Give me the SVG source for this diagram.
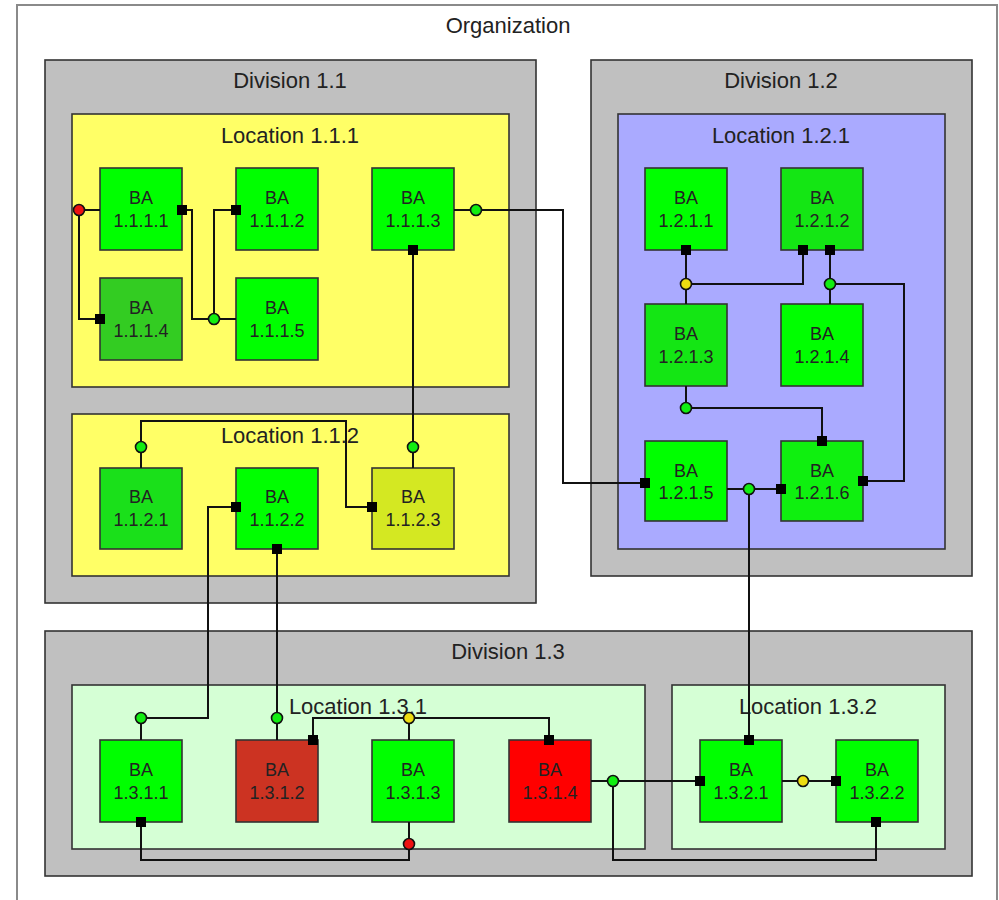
<svg xmlns="http://www.w3.org/2000/svg" width="999" height="900" viewBox="0 0 999 900">
<style>
.org{fill:#ffffff;stroke:#8a8a8a;stroke-width:2}
.div{fill:#c0c0c0;stroke:#333;stroke-width:1.6}
.locY{fill:#ffff66;stroke:#333;stroke-width:1.6}
.locB{fill:#aaaaff;stroke:#333;stroke-width:1.6}
.locG{fill:#d5ffd5;stroke:#333;stroke-width:1.6}
.ba{stroke:#333;stroke-width:1.6}
.t{font-family:"Liberation Sans",Arial,sans-serif;fill:#222;text-anchor:middle}
.title{font-size:22px}
.lbl{font-size:18px}
.w{fill:none;stroke:#111;stroke-width:2}
.sq{fill:#000}
.cg{fill:#11ee11;stroke:#111;stroke-width:1.6}
.cy{fill:#eedd11;stroke:#111;stroke-width:1.6}
.cr{fill:#ee1111;stroke:#111;stroke-width:1.6}
</style>
<rect x="0" y="0" width="999" height="900" fill="#ffffff"/>
<g id="org">
<rect class="org" x="17" y="5" width="980" height="905"/>
<text class="t title" x="508" y="33">Organization</text>
</g>
<g id="div11">
<rect class="div" x="45" y="60" width="491" height="543"/>
<text class="t title" x="290" y="88">Division 1.1</text>
</g>
<g id="loc111">
<rect class="locY" x="72" y="114" width="437" height="273"/>
<text class="t title" x="290" y="143">Location 1.1.1</text>
</g>
<g id="loc112">
<rect class="locY" x="72" y="414" width="437" height="162"/>
<text class="t title" x="290" y="443">Location 1.1.2</text>
</g>
<g id="div12">
<rect class="div" x="591" y="60" width="381" height="516"/>
<text class="t title" x="781" y="88">Division 1.2</text>
</g>
<g id="loc121">
<rect class="locB" x="618" y="114" width="327" height="435"/>
<text class="t title" x="781" y="143">Location 1.2.1</text>
</g>
<g id="div13">
<rect class="div" x="45" y="631" width="927" height="245"/>
<text class="t title" x="508" y="659">Division 1.3</text>
</g>
<g id="loc131">
<rect class="locG" x="72" y="685" width="573" height="164"/>
<text class="t title" x="358" y="714">Location 1.3.1</text>
</g>
<g id="loc132">
<rect class="locG" x="672" y="685" width="273" height="164"/>
<text class="t title" x="808" y="714">Location 1.3.2</text>
</g>

<g id="ba1111"><rect class="ba" x="100" y="168" width="82" height="82" fill="#00ff00"/><text class="t lbl" x="141" y="204">BA</text><text class="t lbl" x="141" y="227">1.1.1.1</text></g>
<g id="ba1112"><rect class="ba" x="236" y="168" width="82" height="82" fill="#00ff00"/><text class="t lbl" x="277" y="204">BA</text><text class="t lbl" x="277" y="227">1.1.1.2</text></g>
<g id="ba1113"><rect class="ba" x="372" y="168" width="82" height="82" fill="#00ff00"/><text class="t lbl" x="413" y="204">BA</text><text class="t lbl" x="413" y="227">1.1.1.3</text></g>
<g id="ba1114"><rect class="ba" x="100" y="278" width="82" height="82" fill="#33cc22"/><text class="t lbl" x="141" y="314">BA</text><text class="t lbl" x="141" y="337">1.1.1.4</text></g>
<g id="ba1115"><rect class="ba" x="236" y="278" width="82" height="82" fill="#00ff00"/><text class="t lbl" x="277" y="314">BA</text><text class="t lbl" x="277" y="337">1.1.1.5</text></g>

<g id="ba1121"><rect class="ba" x="100" y="468" width="82" height="81" fill="#1ae01a"/><text class="t lbl" x="141" y="503">BA</text><text class="t lbl" x="141" y="526">1.1.2.1</text></g>
<g id="ba1122"><rect class="ba" x="236" y="468" width="82" height="81" fill="#00ff00"/><text class="t lbl" x="277" y="503">BA</text><text class="t lbl" x="277" y="526">1.1.2.2</text></g>
<g id="ba1123"><rect class="ba" x="372" y="468" width="82" height="81" fill="#d4e822"/><text class="t lbl" x="413" y="503">BA</text><text class="t lbl" x="413" y="526">1.1.2.3</text></g>

<g id="ba1211"><rect class="ba" x="645" y="168" width="82" height="82" fill="#00ff00"/><text class="t lbl" x="686" y="204">BA</text><text class="t lbl" x="686" y="227">1.2.1.1</text></g>
<g id="ba1212"><rect class="ba" x="781" y="168" width="82" height="82" fill="#14e614"/><text class="t lbl" x="822" y="204">BA</text><text class="t lbl" x="822" y="227">1.2.1.2</text></g>
<g id="ba1213"><rect class="ba" x="645" y="304" width="82" height="82" fill="#14e614"/><text class="t lbl" x="686" y="340">BA</text><text class="t lbl" x="686" y="363">1.2.1.3</text></g>
<g id="ba1214"><rect class="ba" x="781" y="304" width="82" height="82" fill="#00ff00"/><text class="t lbl" x="822" y="340">BA</text><text class="t lbl" x="822" y="363">1.2.1.4</text></g>
<g id="ba1215"><rect class="ba" x="645" y="441" width="82" height="80" fill="#00ff00"/><text class="t lbl" x="686" y="477">BA</text><text class="t lbl" x="686" y="499">1.2.1.5</text></g>
<g id="ba1216"><rect class="ba" x="781" y="441" width="82" height="80" fill="#0ff00f"/><text class="t lbl" x="822" y="477">BA</text><text class="t lbl" x="822" y="499">1.2.1.6</text></g>

<g id="ba1311"><rect class="ba" x="100" y="740" width="82" height="82" fill="#00ff00"/><text class="t lbl" x="141" y="776">BA</text><text class="t lbl" x="141" y="799">1.3.1.1</text></g>
<g id="ba1312"><rect class="ba" x="236" y="740" width="82" height="82" fill="#cc3322"/><text class="t lbl" x="277" y="776">BA</text><text class="t lbl" x="277" y="799">1.3.1.2</text></g>
<g id="ba1313"><rect class="ba" x="372" y="740" width="82" height="82" fill="#00ff00"/><text class="t lbl" x="413" y="776">BA</text><text class="t lbl" x="413" y="799">1.3.1.3</text></g>
<g id="ba1314"><rect class="ba" x="509" y="740" width="82" height="82" fill="#ff0000"/><text class="t lbl" x="550" y="776">BA</text><text class="t lbl" x="550" y="799">1.3.1.4</text></g>
<g id="ba1321"><rect class="ba" x="700" y="740" width="82" height="82" fill="#00ff00"/><text class="t lbl" x="741" y="776">BA</text><text class="t lbl" x="741" y="799">1.3.2.1</text></g>
<g id="ba1322"><rect class="ba" x="836" y="740" width="82" height="82" fill="#00ff00"/><text class="t lbl" x="877" y="776">BA</text><text class="t lbl" x="877" y="799">1.3.2.2</text></g>

<g id="connectors">
<path class="w" d="M100 210H79V319H100"/>
<path class="w" d="M182 210H192V319H236M214 319V210H236"/>
<path class="w" d="M454 210H563V483H645"/>
<path class="w" d="M413 250V468"/>
<path class="w" d="M141 468V421H346V507H372"/>
<path class="w" d="M236 507H208V718H141V740"/>
<path class="w" d="M277 549V740"/>
<path class="w" d="M313 740V718H549V740M409 718V740"/>
<path class="w" d="M141 822V860H409V822"/>
<path class="w" d="M591 781H700M613 781V860H876V822"/>
<path class="w" d="M782 781H836"/>
<path class="w" d="M727 489H781M749 489V740"/>
<path class="w" d="M686 250V304M686 284H803V250"/>
<path class="w" d="M830 250V304M830 284H904V481H863"/>
<path class="w" d="M686 386V408H822V441"/>
<rect class="sq" x="95" y="314" width="10" height="10"/>
<rect class="sq" x="177" y="205" width="10" height="10"/>
<rect class="sq" x="231" y="205" width="10" height="10"/>
<rect class="sq" x="408" y="245" width="10" height="10"/>
<rect class="sq" x="640" y="478" width="10" height="10"/>
<rect class="sq" x="231" y="502" width="10" height="10"/>
<rect class="sq" x="272" y="544" width="10" height="10"/>
<rect class="sq" x="367" y="502" width="10" height="10"/>
<rect class="sq" x="681" y="245" width="10" height="10"/>
<rect class="sq" x="798" y="245" width="10" height="10"/>
<rect class="sq" x="825" y="245" width="10" height="10"/>
<rect class="sq" x="817" y="436" width="10" height="10"/>
<rect class="sq" x="776" y="484" width="10" height="10"/>
<rect class="sq" x="858" y="476" width="10" height="10"/>
<rect class="sq" x="308" y="735" width="10" height="10"/>
<rect class="sq" x="544" y="735" width="10" height="10"/>
<rect class="sq" x="136" y="817" width="10" height="10"/>
<rect class="sq" x="744" y="735" width="10" height="10"/>
<rect class="sq" x="695" y="776" width="10" height="10"/>
<rect class="sq" x="831" y="776" width="10" height="10"/>
<rect class="sq" x="871" y="817" width="10" height="10"/>
<circle class="cr" cx="79" cy="210" r="5.5"/>
<circle class="cg" cx="214" cy="319" r="5.5"/>
<circle class="cg" cx="476" cy="210" r="5.5"/>
<circle class="cg" cx="413" cy="447" r="5.5"/>
<circle class="cg" cx="141" cy="447" r="5.5"/>
<circle class="cg" cx="141" cy="718" r="5.5"/>
<circle class="cg" cx="277" cy="718" r="5.5"/>
<circle class="cy" cx="409" cy="718" r="5.5"/>
<circle class="cr" cx="409" cy="844" r="5.5"/>
<circle class="cg" cx="613" cy="781" r="5.5"/>
<circle class="cy" cx="803" cy="781" r="5.5"/>
<circle class="cg" cx="749" cy="489" r="5.5"/>
<circle class="cy" cx="686" cy="284" r="5.5"/>
<circle class="cg" cx="830" cy="284" r="5.5"/>
<circle class="cg" cx="686" cy="408" r="5.5"/>
</g>
</svg>
